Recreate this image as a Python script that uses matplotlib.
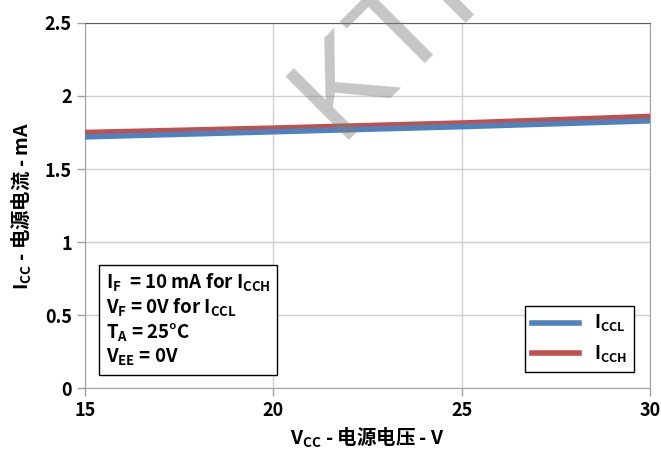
import matplotlib.pyplot as plt

# Fonts: CJK family covers both the Latin and the Chinese text
plt.rcParams['font.family'] = ['Noto Sans CJK SC', 'DejaVu Sans']
plt.rcParams['font.weight'] = 'bold'
plt.rcParams['axes.labelweight'] = 'bold'
plt.rcParams['mathtext.fontset'] = 'custom'
plt.rcParams['mathtext.rm'] = 'Noto Sans CJK SC:bold'
plt.rcParams['mathtext.it'] = 'Noto Sans CJK SC:bold'
plt.rcParams['mathtext.bf'] = 'Noto Sans CJK SC:bold'
plt.rcParams['mathtext.default'] = 'rm'

# Supply current vs supply voltage
vcc = [15, 20, 25, 30]
iccl = [1.72, 1.755, 1.79, 1.83]
icch = [1.75, 1.78, 1.815, 1.86]

xticks = [15, 20, 25, 30]
yticks = [0, 0.5, 1, 1.5, 2, 2.5]
ytick_labels = ['0', '0.5', '1', '1.5', '2', '2.5']

fig = plt.figure(figsize=(6.61, 4.58), dpi=100)
ax = fig.add_axes([0.1286, 0.1528, 0.855, 0.797])

ax.plot(vcc, icch, color='#c0504d', lw=4, label=r'$I_{CCH}$', zorder=3)
ax.plot(vcc, iccl, color='#4f81bd', lw=4, label=r'$I_{CCL}$', zorder=4)

ax.set_xlim(15, 30)
ax.set_ylim(0, 2.5)
ax.set_xticks(xticks)
ax.set_yticks(yticks)
ax.set_yticklabels(ytick_labels)
ax.tick_params(labelsize=13, color='#a0a0a0', length=6, width=1)
ax.grid(True, color='#d0d0d0', lw=1)
for side in ['left', 'bottom', 'right']:
    ax.spines[side].set_color('#a0a0a0')
ax.spines['top'].set_color('#606060')

ax.set_xlabel(r'$V_{CC}$ - 电源电压 - V', fontsize=14, fontweight='bold', labelpad=4)
ax.set_ylabel(r'$I_{CC}$ - 电源电流 - mA', fontsize=14, fontweight='bold', labelpad=8)

# Test conditions box
cond = '\n'.join([
    r'$I_F$  = 10 mA for $I_{CCH}$',
    r'$V_F$ = 0V for $I_{CCL}$',
    r'$T_A$ = 25°C',
    r'$V_{EE}$ = 0V',
])
ax.text(0.037, 0.055, cond, transform=ax.transAxes, fontsize=13.5,
        va='bottom', ha='left', linespacing=1.17, zorder=5,
        bbox=dict(boxstyle='square,pad=0.35', fc='white', ec='black', lw=1))

# Legend with ICCL first
h, l = ax.get_legend_handles_labels()
leg = ax.legend(h[::-1], l[::-1], loc='lower right', fontsize=13,
                fancybox=False, edgecolor='black', framealpha=1,
                handlelength=2.6, borderaxespad=0.9)
leg.get_frame().set_linewidth(1)

# Watermark
fig.text(0.512, 0.695, 'KTI', fontsize=93, color='#808080', alpha=0.45,
         family='Liberation Sans', weight='normal', rotation=45,
         rotation_mode='anchor', ha='left', va='baseline', zorder=10)

fig.savefig('out.png', dpi=100)
